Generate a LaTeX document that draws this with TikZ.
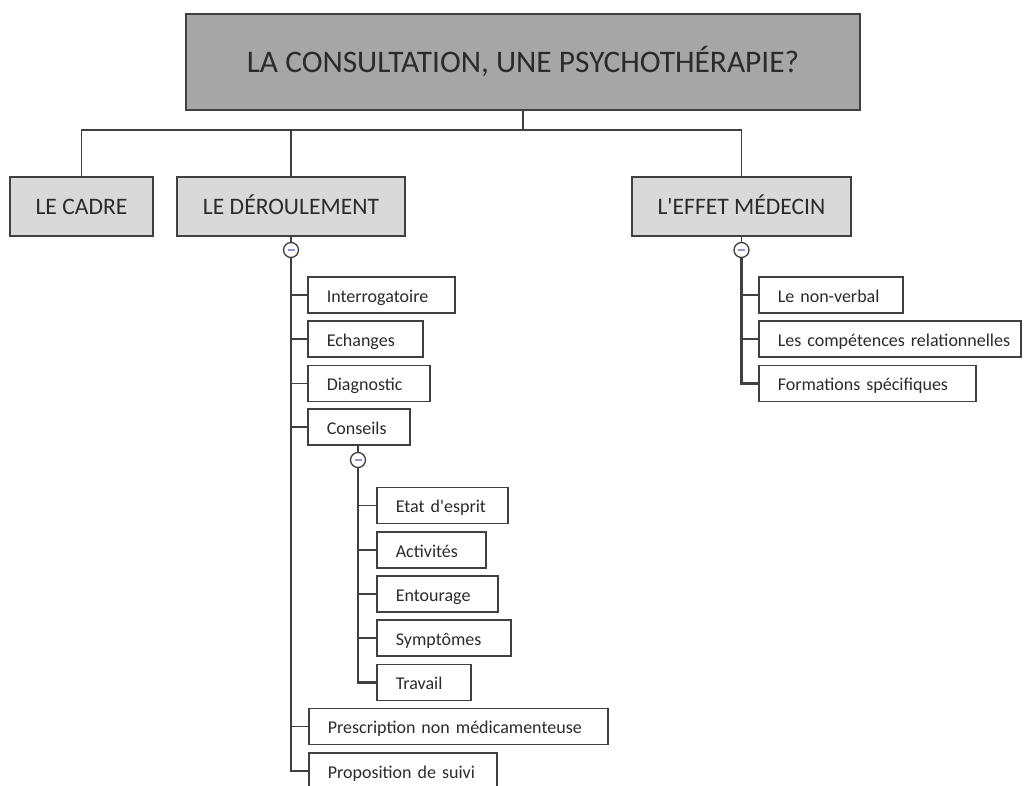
\documentclass[tikz,border=0pt]{standalone}
\usepackage{fontspec}
\setmainfont{Carlito}[Ligatures=TeXOff]
\definecolor{edgecol}{HTML}{404040}
\definecolor{txtcol}{HTML}{2B2B2B}
\definecolor{rootfill}{HTML}{A6A6A6}
\definecolor{lvlfill}{HTML}{D9D9D9}
\definecolor{minuscol}{HTML}{8A9AC8}
\begin{document}
\begin{tikzpicture}[x=1pt,y=-1pt,
  every node/.style={text=txtcol},
  rootbox/.style={draw=edgecol,line width=1.8pt,fill=rootfill,minimum width=674pt,minimum height=96pt,font=\fontsize{31.4}{36}\selectfont,inner sep=0pt,text height=20.2pt,text depth=0pt},
  lvlbox/.style={draw=edgecol,line width=1.8pt,fill=lvlfill,minimum height=59pt,font=\fontsize{23.6}{28}\selectfont,inner sep=0pt,text height=15.2pt,text depth=0pt},
  leaf/.style={draw=edgecol,line width=1.6pt,fill=white,minimum height=36pt,anchor=west,inner xsep=19pt,inner ysep=0pt,align=left,font=\fontsize{18}{21}\selectfont,text height=14.4pt,text depth=0pt},
  link/.style={draw=edgecol,line width=1.8pt},
  trunk/.style={draw=edgecol,line width=2.6pt},
  toggle/.style={circle,draw=edgecol,line width=1.3pt,fill=white,minimum size=15pt,inner sep=0pt,
    path picture={\draw[minuscol,line width=1.8pt] ([xshift=-3.5pt]path picture bounding box.center) -- ([xshift=3.5pt]path picture bounding box.center);}}
]
\useasboundingbox (0,0) rectangle (1026,785);
\clip (0,0) rectangle (1026,785);

% root and first level
\node[rootbox] (root) at (523,62) {LA CONSULTATION, UNE PSYCHOTHÉRAPIE?};
\node[lvlbox,minimum width=143pt] (cadre) at (81.5,206.5) {LE CADRE};
\node[lvlbox,minimum width=228pt] (deroul) at (291,206.5) {LE DÉROULEMENT};
\node[lvlbox,minimum width=219pt] (effet) at (741.5,206.5) {L'EFFET MÉDECIN};
\coordinate (bus) at (523,130);
\draw[link] (root.south) -- (bus) -| (cadre.north);
\draw[link] (bus) -| (deroul.north);
\draw[link] (bus) -| (effet.north);

% toggles
\node[toggle] (t1) at (291,250) {};
\node[toggle] (t3) at (741.5,250) {};

% leaves of LE DÉROULEMENT
\node[leaf,text width=109pt] (interro) at (307,295) {\mbox{Interrogatoire}};
\node[leaf,text width=77pt] (echanges) at (307,339) {\mbox{Echanges}};
\node[leaf,text width=84pt] (diag) at (307,383.5) {\mbox{Diagnostic}};
\node[leaf,text width=64pt] (conseils) at (307,427) {\mbox{Conseils}};
\node[toggle] (t2) at (358,460) {};
\node[leaf,text width=93pt] (etat) at (376,505.5) {\mbox{Etat d'esprit}};
\node[leaf,text width=71pt] (activ) at (376,550) {\mbox{Activités}};
\node[leaf,text width=83pt] (entour) at (376,594) {\mbox{Entourage}};
\node[leaf,text width=96pt] (sympt) at (376,638) {\mbox{Symptômes}};
\node[leaf,text width=56pt] (travail) at (376,682.5) {\mbox{Travail}};
\node[leaf,text width=261pt] (prescr) at (308,726.5) {\mbox{Prescription non médicamenteuse}};
\node[leaf,text width=150pt] (propos) at (308,771) {\mbox{Proposition de suivi}};

% leaves of L'EFFET MÉDECIN
\node[leaf,text width=106pt] (nonverb) at (758,295) {\mbox{Le non-verbal}};
\node[leaf,text width=224pt] (compet) at (758,339) {\mbox{Les compétences relationnelles}};
\node[leaf,text width=179pt] (format) at (758,383.5) {\mbox{Formations spécifiques}};

% connectors of LE DÉROULEMENT
\draw[link] (deroul.south) -- (t1.north);
\draw[trunk] (t1.south) |- (propos.west);
\foreach \n in {interro,echanges,diag,conseils,prescr}
  \draw[link] (t1 |- \n.west) -- (\n.west);

% connectors of Conseils
\draw[link] (conseils.south -| t2) -- (t2.north);
\draw[trunk] (t2.south) |- (travail.west);
\foreach \n in {etat,activ,entour,sympt}
  \draw[link] (t2 |- \n.west) -- (\n.west);

% connectors of L'EFFET MÉDECIN
\draw[link] (effet.south) -- (t3.north);
\draw[trunk] (t3.south) |- (format.west);
\foreach \n in {nonverb,compet}
  \draw[link] (t3 |- \n.west) -- (\n.west);
\end{tikzpicture}
\end{document}
